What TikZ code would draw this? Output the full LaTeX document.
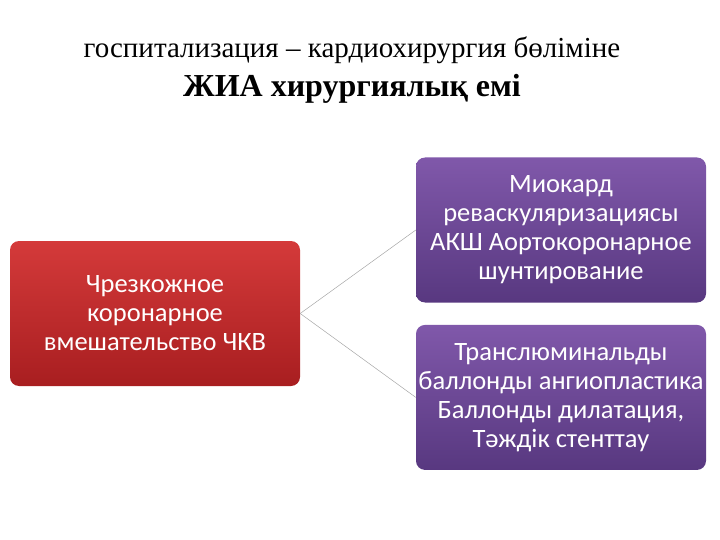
\documentclass[tikz,border=0pt]{standalone}
\usepackage{fontspec}
\setmainfont{Liberation Serif}
\newfontfamily\boxfont{Carlito}
\usetikzlibrary{positioning}

\begin{document}
\begin{tikzpicture}[x=1pt,y=1pt]
\definecolor{red top}{RGB}{212,58,58}
\definecolor{red bottom}{RGB}{168,30,32}
\definecolor{purple top}{RGB}{128,88,170}
\definecolor{purple bottom}{RGB}{88,56,128}
\tikzset{
     box/.style={rounded corners=9pt, minimum width=290pt, minimum height=145pt,
       align=center, text=white, inner sep=0pt,
       font=\boxfont\fontsize{26.5}{29}\selectfont},
     redbox/.style={box, top color=red top, bottom color=red bottom},
     purplebox/.style={box, top color=purple top, bottom color=purple bottom},
     link/.style={draw=gray!70, line width=0.5pt}}
\useasboundingbox (0,0) rectangle (720,-540);

% The title
\node (title) at (352,-50) {\fontsize{29}{34}\selectfont госпитализация – кардиохирургия бөліміне};
\node (subtitle) at (352,-89) {\fontsize{32}{38}\selectfont\bfseries ЖИА хирургиялық емі};

% The boxes
\node (pcibox) [redbox] at (155,-313.5) {Чрезкожное\\коронарное\\вмешательство ЧКВ};
\node (cabgbox) [purplebox] at (561,-230) {Миокард\\реваскуляризациясы\\АКШ Аортокоронарное\\шунтирование};
\node (ptcabox) [purplebox, below=22pt of cabgbox] {Транслюминальды\\баллонды ангиопластика\\Баллонды дилатация,\\Тәждік стенттау};

% The links
\draw [link] (pcibox.east) -- (cabgbox.west);
\draw [link] (pcibox.east) -- (ptcabox.west);
\end{tikzpicture}
\end{document}
